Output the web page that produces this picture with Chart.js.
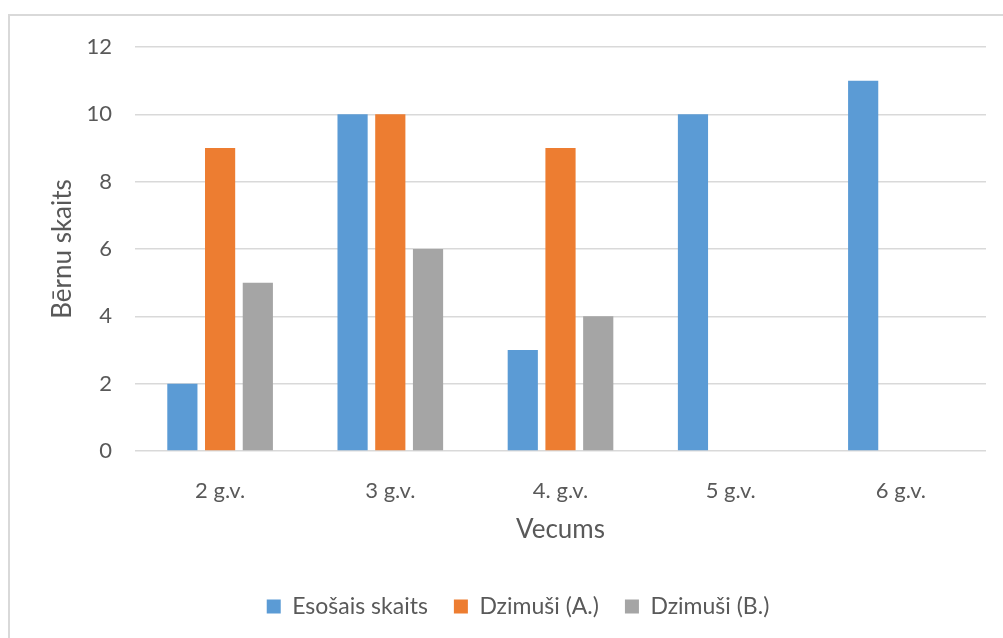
<!DOCTYPE html>
<html><head><meta charset="utf-8">
<script src="https://cdn.jsdelivr.net/npm/chart.js@4.4.1/dist/chart.umd.min.js"></script>
<style>html,body{margin:0;padding:0;background:#fff}#wrap{width:1003px;height:638px;position:relative}</style>
</head><body><div id="wrap"><canvas id="c" width="1003" height="638"></canvas></div>
<script>
const categories = ["2 g.v.", "3 g.v.", "4. g.v.", "5 g.v.", "6 g.v."];
const esosais = [2, 10, 3, 10, 11];
const dzimusiA = [9, 10, 9, null, null];
const dzimusiB = [5, 6, 4, null, null];
const seriesNames = ["Esošais skaits", "Dzimuši (A.)", "Dzimuši (B.)"];
const yTitle = "Bērnu skaits";
const xTitle = "Vecums";

const frame = {
  id: 'frame',
  afterLayout(chart) {
    if (chart.legend) { chart.legend.left += 21; chart.legend.right += 21; }
  },
  beforeDraw(chart) {
    const ctx = chart.ctx;
    ctx.save();
    ctx.strokeStyle = '#d9d9d9';
    ctx.lineWidth = 2;
    ctx.beginPath();
    ctx.moveTo(9, 638);
    ctx.lineTo(9, 15);
    ctx.lineTo(1003, 15);
    ctx.stroke();
    ctx.restore();
  }
};

const font = "Lato, 'Open Sans', sans-serif";
const txt = '#595959';
new Chart(document.getElementById('c'), {
  type: 'bar',
  data: {
    labels: categories,
    datasets: [
      {label: seriesNames[0], data: esosais, backgroundColor: '#5B9BD5'},
      {label: seriesNames[1], data: dzimusiA, backgroundColor: '#ED7D31'},
      {label: seriesNames[2], data: dzimusiB, backgroundColor: '#A5A5A5'}
    ]
  },
  options: {
    responsive: false,
    animation: false,
    devicePixelRatio: 1,
    categoryPercentage: 0.665,
    barPercentage: 0.8,
    layout: {padding: {left: 8, top: 47, right: 17, bottom: 10}},
    plugins: {
      tooltip: {enabled: false},
      legend: {
        position: 'bottom',
        labels: {boxWidth: 14, boxHeight: 14, padding: 26, color: txt, font: {family: font, size: 23}}
      }
    },
    scales: {
      x: {
        grid: {display: false},
        border: {display: false},
        ticks: {color: txt, padding: 19, font: {family: font, size: 22}},
        title: {display: true, text: xTitle, color: txt, font: {family: font, size: 26}, padding: {top: 10, bottom: 24}},
        afterFit(s) { s.height = 118; }
      },
      y: {
        min: 0, max: 12,
        ticks: {stepSize: 2, color: txt, padding: 23, font: {family: font, size: 22}},
        grid: {color: '#d9d9d9', lineWidth: 1.5, drawTicks: false},
        border: {display: false},
        title: {display: true, text: yTitle, color: txt, font: {family: font, size: 26}, padding: {top: 39, bottom: 0}},
        afterFit(s) { s.width = 127; }
      }
    }
  },
  plugins: [frame]
});
</script></body></html>
